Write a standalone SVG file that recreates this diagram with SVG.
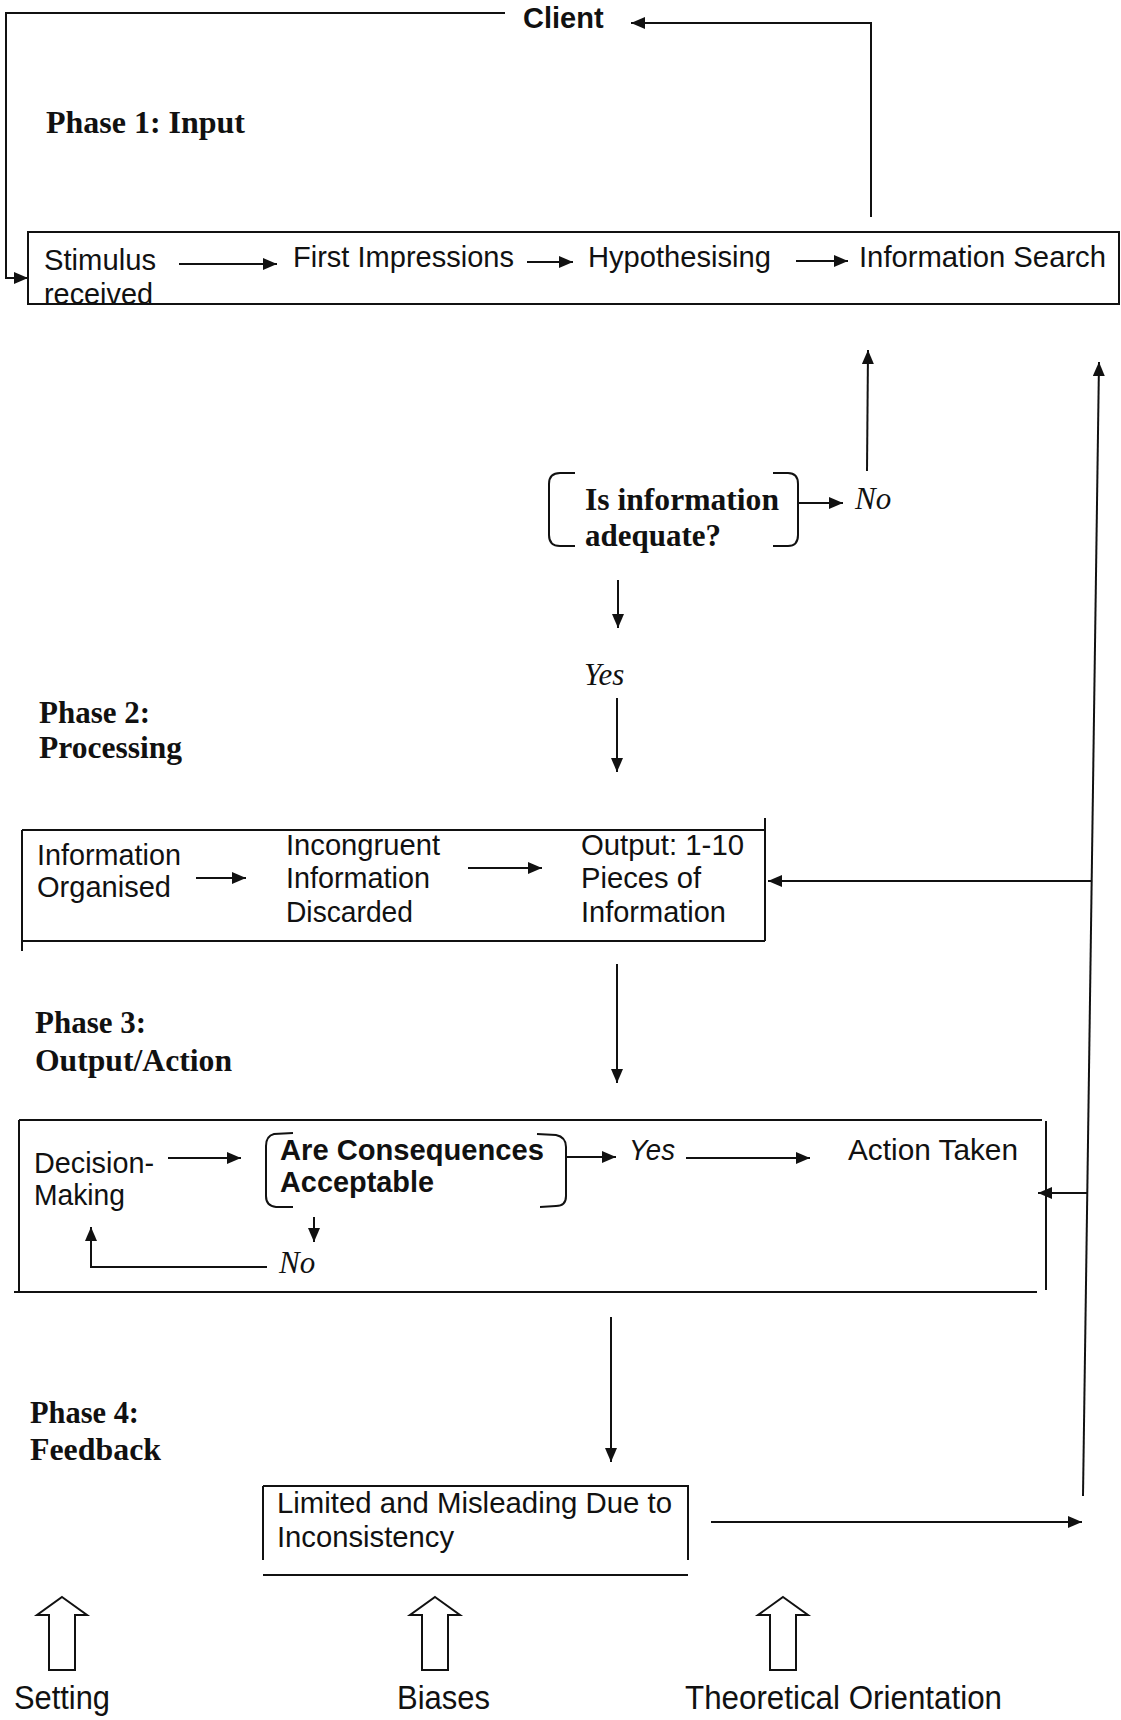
<svg xmlns="http://www.w3.org/2000/svg" width="1121" height="1720" viewBox="0 0 1121 1720">
<style>
.sans{font-family:"Liberation Sans",Arial,sans-serif;font-size:29px;fill:#111}
.sansb{font-family:"Liberation Sans",Arial,sans-serif;font-size:29px;font-weight:bold;fill:#111}
.sansi{font-family:"Liberation Sans",Arial,sans-serif;font-size:29px;font-style:italic;fill:#111}
.serb{font-family:"Liberation Serif","Times New Roman",serif;font-size:31px;font-weight:bold;fill:#111}
.seri{font-family:"Liberation Serif","Times New Roman",serif;font-size:31px;font-style:italic;fill:#111}
.big{font-size:33px}
.box{fill:none;stroke:#111;stroke-width:2}
.con{fill:none;stroke:#111;stroke-width:2;marker-end:url(#ah)}
.line{fill:none;stroke:#111;stroke-width:2}
.hollow{fill:#fff;stroke:#111;stroke-width:2;stroke-linejoin:miter}
</style>
<defs>
<marker id="ah" markerUnits="userSpaceOnUse" markerWidth="14" markerHeight="12" refX="14" refY="6" orient="auto">
<path d="M0,0 L14,6 L0,12 Z" fill="#111"/>
</marker>
<path id="hollowArrow" d="M0,0 L25,18 L13,18 L13,73 L-13,73 L-13,18 L-25,18 Z"/>
</defs>
<rect width="1121" height="1720" fill="#fff"/>

<g id="connectors">
<path class="con" d="M505,13 L6,13 L6,278 L28,278"/>
<path class="con" d="M871,217 L871,23 L631,23"/>
<path class="con" d="M179,264 L277,264"/>
<path class="con" d="M527,262 L573,262"/>
<path class="con" d="M796,261 L848,261"/>
<path class="con" d="M867,471 L868,350"/>
<path class="con" d="M1083,1496 L1099,362"/>
<path class="con" d="M798,503 L843,503"/>
<path class="con" d="M618,580 L618,628"/>
<path class="con" d="M617,698 L617,772"/>
<path class="con" d="M196,878 L246,878"/>
<path class="con" d="M468,868 L542,868"/>
<path class="con" d="M1092,881 L768,881"/>
<path class="con" d="M617,964 L617,1083"/>
<path class="con" d="M168,1158 L241,1158"/>
<path class="con" d="M566,1157 L616,1157"/>
<path class="con" d="M686,1158 L810,1158"/>
<path class="con" d="M314,1217 L314,1242"/>
<path class="con" d="M267,1267 L91,1267 L91,1227"/>
<path class="con" d="M1087,1193 L1038,1193"/>
<path class="con" d="M611,1317 L611,1462"/>
<path class="con" d="M711,1522 L1082,1522"/>
</g>

<g id="client">
<text class="sansb" x="523" y="28" font-size="27">Client</text>
</g>

<g id="phase1-label">
<text class="serb" x="46" y="133" textLength="199" lengthAdjust="spacingAndGlyphs">Phase 1: Input</text>
</g>

<g id="phase1-box">
<rect class="box" x="28" y="232" width="1091" height="72"/>
<text class="sans" x="44" y="270" textLength="112" lengthAdjust="spacingAndGlyphs">Stimulus</text>
<text class="sans" x="44" y="304" textLength="109" lengthAdjust="spacingAndGlyphs">received</text>
<text class="sans" x="293" y="267" textLength="221" lengthAdjust="spacingAndGlyphs">First Impressions</text>
<text class="sans" x="588" y="267" textLength="183" lengthAdjust="spacingAndGlyphs">Hypothesising</text>
<text class="sans" x="859" y="267" textLength="247" lengthAdjust="spacingAndGlyphs">Information Search</text>
</g>

<g id="decision-info">
<path class="line" d="M575,473 L560,473 Q549,473 549,484 L549,535 Q549,546 560,546 L575,546"/>
<path class="line" d="M773,473 L788,473 Q798,473 798,484 L798,535 Q798,546 788,546 L773,546"/>
<text class="serb" x="585" y="510" textLength="194" lengthAdjust="spacingAndGlyphs">Is information</text>
<text class="serb" x="585" y="546" textLength="136" lengthAdjust="spacingAndGlyphs">adequate?</text>
</g>

<g id="label-no1"><text class="seri" x="855" y="509">No</text></g>
<g id="label-yes1"><text class="seri" x="584" y="685">Yes</text></g>

<g id="phase2-label">
<text class="serb" x="39" y="723" textLength="111" lengthAdjust="spacingAndGlyphs">Phase 2:</text>
<text class="serb" x="39" y="758" textLength="143" lengthAdjust="spacingAndGlyphs">Processing</text>
</g>

<g id="phase2-box">
<path class="box" d="M22,830 L765,830 M765,818 L765,941 M22,941 L765,941 M22,830 L22,951"/>
<text class="sans" x="37" y="865" textLength="144" lengthAdjust="spacingAndGlyphs">Information</text>
<text class="sans" x="37" y="897" textLength="134" lengthAdjust="spacingAndGlyphs">Organised</text>
<text class="sans" x="286" y="855" textLength="154" lengthAdjust="spacingAndGlyphs">Incongruent</text>
<text class="sans" x="286" y="888" textLength="144" lengthAdjust="spacingAndGlyphs">Information</text>
<text class="sans" x="286" y="922" textLength="127" lengthAdjust="spacingAndGlyphs">Discarded</text>
<text class="sans" x="581" y="855" textLength="163" lengthAdjust="spacingAndGlyphs">Output: 1-10</text>
<text class="sans" x="581" y="888" textLength="120" lengthAdjust="spacingAndGlyphs">Pieces of</text>
<text class="sans" x="581" y="922" textLength="145" lengthAdjust="spacingAndGlyphs">Information</text>
</g>

<g id="phase3-label">
<text class="serb" x="35" y="1033" textLength="111" lengthAdjust="spacingAndGlyphs">Phase 3:</text>
<text class="serb" x="35" y="1071" textLength="197" lengthAdjust="spacingAndGlyphs">Output/Action</text>
</g>

<g id="phase3-box">
<path class="box" d="M19,1120 L1042,1120 M1046,1121 L1046,1290 M14,1292 L1037,1292 M19,1120 L19,1292"/>
<text class="sans" x="34" y="1173" textLength="120" lengthAdjust="spacingAndGlyphs">Decision-</text>
<text class="sans" x="34" y="1205" textLength="91" lengthAdjust="spacingAndGlyphs">Making</text>
<path class="line" d="M293,1133 L274,1134 Q266,1136 266,1146 L266,1196 Q266,1206 276,1207 L293,1207"/>
<path class="line" d="M537,1134 L556,1135 Q566,1137 566,1147 L566,1196 Q566,1206 556,1206 L540,1207"/>
<text class="sansb" x="280" y="1160" textLength="264" lengthAdjust="spacingAndGlyphs">Are Consequences</text>
<text class="sansb" x="280" y="1192" textLength="154" lengthAdjust="spacingAndGlyphs">Acceptable</text>
<text class="seri" x="279" y="1273">No</text>
<text class="sansi" x="629" y="1160" textLength="46" lengthAdjust="spacingAndGlyphs">Yes</text>
<text class="sans" x="848" y="1160" textLength="170" lengthAdjust="spacingAndGlyphs">Action Taken</text>
</g>

<g id="phase4-label">
<text class="serb" x="30" y="1423" textLength="109" lengthAdjust="spacingAndGlyphs">Phase 4:</text>
<text class="serb" x="30" y="1460" textLength="131" lengthAdjust="spacingAndGlyphs">Feedback</text>
</g>

<g id="phase4-box">
<path class="box" d="M263,1486 L688,1486 L688,1560 M263,1486 L263,1560 M263,1575 L688,1575"/>
<text class="sans" x="277" y="1513" textLength="395" lengthAdjust="spacingAndGlyphs">Limited and Misleading Due to</text>
<text class="sans" x="277" y="1547" textLength="177" lengthAdjust="spacingAndGlyphs">Inconsistency</text>
</g>

<g id="setting">
<use href="#hollowArrow" class="hollow" transform="translate(62,1597)"/>
<text class="sans big" x="14" y="1709" textLength="96" lengthAdjust="spacingAndGlyphs">Setting</text>
</g>
<g id="biases">
<use href="#hollowArrow" class="hollow" transform="translate(435,1597)"/>
<text class="sans big" x="397" y="1709" textLength="93" lengthAdjust="spacingAndGlyphs">Biases</text>
</g>
<g id="theoretical">
<use href="#hollowArrow" class="hollow" transform="translate(783,1597)"/>
<text class="sans big" x="685" y="1709" textLength="317" lengthAdjust="spacingAndGlyphs">Theoretical Orientation</text>
</g>
</svg>
